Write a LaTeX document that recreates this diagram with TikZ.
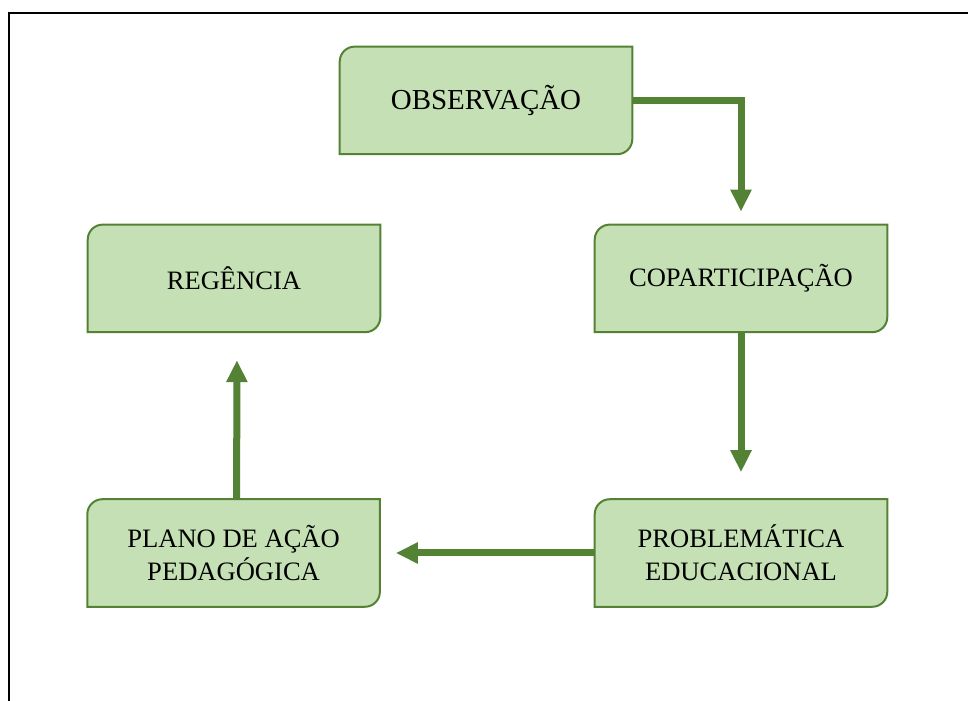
\documentclass[tikz,border=0pt]{standalone}
\usepackage{fontspec}
\setmainfont{Liberation Serif}
\usepackage{tikz}
\usetikzlibrary{calc,arrows.meta,backgrounds}
\definecolor{verdeclaro}{HTML}{C5E0B4}
\definecolor{verdeescuro}{HTML}{548235}
\def\etapa(#1){\draw[line width=0.05cm, color=verdeescuro, fill=verdeclaro] (#1.south west) -- ($(#1.north west)+(0,-0.375)$) arc (180:90:0.375) -- (#1.north east) -- ($(#1.south east)+(0,0.375)$) arc (0:-90:0.375) -- cycle;}

\begin{document}
\begin{tikzpicture}[
	caixa/.style={minimum width=7.3cm, minimum height=2.675cm, inner sep=0pt, align=center, font=\fontsize{18.9}{23.5}\selectfont},
	seta/.style={line width=0.175cm, color=verdeescuro, -{Triangle[width=0.5cm,length=0.55cm]}}
	]
			%%%%% START %%%%%
			
			\useasboundingbox (0, 0) rectangle (24.2, 17.5);
			\draw[line width=0.05cm] (0.225, -0.5) -- (0.225, 17.175) -- (24.7, 17.175);
			
			\node[caixa, font=\fontsize{20.6}{23.5}\selectfont] (obs) at (12.15, 14.99) {OBSERVAÇÃO};
			\node[caixa] (cop) at (18.525, 10.54) {COPARTICIPAÇÃO};
			\node[caixa] (reg) at (5.85, 10.54) {REGÊNCIA};
			\node[caixa] (plano) at (5.84, 3.675) {PLANO DE AÇÃO\\PEDAGÓGICA};
			\node[caixa] (prob) at (18.525, 3.675) {PROBLEMÁTICA\\EDUCACIONAL};
			
			\begin{scope}[on background layer]
				\etapa(obs)
				\etapa(cop)
				\etapa(reg)
				\etapa(plano)
				\etapa(prob)
			\end{scope}
			
			\draw[seta, shorten >=0.325cm] (obs) -| (cop);
			\draw[seta, shorten >=0.675cm] (cop) -- (prob);
			\draw[seta, shorten >=0.4cm] (prob) -- (plano);
			\draw[seta, shorten >=0.7cm] ([xshift=0.075cm]plano.north) -- ([xshift=0.075cm]reg.south);
			
			%%%%% END %%%%%
\end{tikzpicture}
\end{document}
